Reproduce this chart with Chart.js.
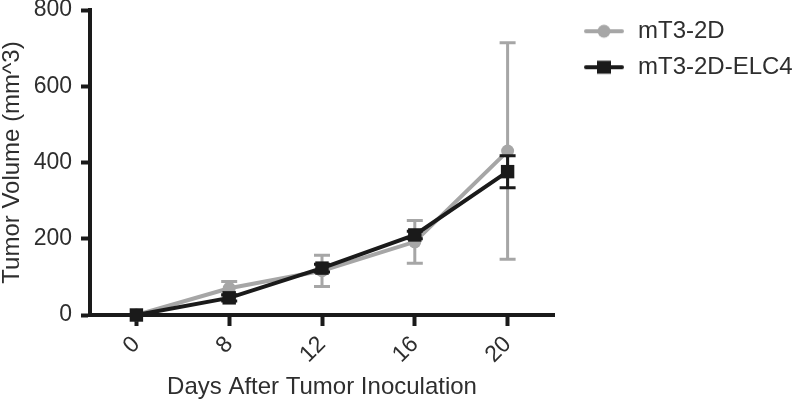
<!DOCTYPE html>
<html>
<head>
<meta charset="utf-8">
<script src="https://cdn.jsdelivr.net/npm/chart.js@4.4.0/dist/chart.umd.min.js"></script>
<style>
  html, body { margin: 0; padding: 0; background: #fff; }
  #wrap { width: 800px; height: 403px; }
</style>
</head>
<body>
<div id="wrap"><canvas id="tumorChart" width="800" height="403"></canvas></div>
<script>
// data (mean +/- error)
const days = ['0', '8', '12', '16', '20'];
const yTicks = [0, 200, 400, 600, 800];
const seriesNames = ['mT3-2D', 'mT3-2D-ELC4'];
const mt3Mean = [0, 70, 116, 192, 430];
const mt3Err = [0, 18, 41, 56, 284];
const elc4Mean = [0, 45, 123, 210, 376];
const elc4Err = [0, 8, 10, 10, 42];

const font = '"Liberation Sans", Arial, Helvetica, sans-serif';
const textColor = '#2e2e2e';
const axisColor = '#1a1a1a';
const grayColor = '#a6a6a6';
const blackColor = '#1a1a1a';

// small line + marker picture for the legend
function legendSymbol(color, shape) {
    const c = document.createElement('canvas');
    c.width = 60;
    c.height = 20;
    const g = c.getContext('2d');
    g.strokeStyle = color;
    g.fillStyle = color;
    g.lineWidth = 4;
    g.lineCap = 'round';
    g.beginPath();
    g.moveTo(20, 10);
    g.lineTo(56, 10);
    g.stroke();
    if (shape === 'circle') {
        g.beginPath();
        g.arc(38, 10, 6.5, 0, Math.PI * 2);
        g.fill();
    } else {
        g.fillRect(31, 3.5, 14, 13);
    }
    return c;
}

// vertical error bars with caps, drawn just before each dataset
const errorBars = {
    id: 'errorBars',
    beforeDatasetDraw(chart, args) {
        const ds = chart.data.datasets[args.index];
        if (!ds.errors) return;
        const y = chart.scales.y;
        const ctx = chart.ctx;
        ctx.save();
        ctx.strokeStyle = ds.borderColor;
        ctx.lineWidth = 3;
        args.meta.data.forEach((pt, i) => {
            const e = ds.errors[i];
            if (!e) return;
            const top = y.getPixelForValue(ds.data[i] + e);
            const bot = y.getPixelForValue(ds.data[i] - e);
            ctx.beginPath();
            ctx.moveTo(pt.x, top);
            ctx.lineTo(pt.x, bot);
            ctx.moveTo(pt.x - 8, top);
            ctx.lineTo(pt.x + 8, top);
            ctx.moveTo(pt.x - 8, bot);
            ctx.lineTo(pt.x + 8, bot);
            ctx.stroke();
        });
        ctx.restore();
    }
};

new Chart(document.getElementById('tumorChart'), {
    type: 'line',
    data: {
        labels: days,
        datasets: [{
            label: seriesNames[0],
            data: mt3Mean,
            errors: mt3Err,
            borderColor: grayColor,
            backgroundColor: grayColor,
            borderWidth: 4,
            pointStyle: 'circle',
            pointRadius: 6.5,
            pointBorderWidth: 0,
            order: 1,
            clip: false,
            legendSymbol: legendSymbol(grayColor, 'circle')
        }, {
            label: seriesNames[1],
            data: elc4Mean,
            errors: elc4Err,
            borderColor: blackColor,
            backgroundColor: blackColor,
            borderWidth: 4,
            pointStyle: 'rect',
            pointRadius: 9.5,
            pointBorderWidth: 0,
            order: 0,
            clip: false,
            legendSymbol: legendSymbol(blackColor, 'rect')
        }]
    },
    options: {
        responsive: false,
        animation: false,
        layout: { padding: 0 },
        plugins: {
            tooltip: { enabled: false },
            legend: {
                position: 'right',
                align: 'start',
                maxWidth: 246,
                title: { display: true, text: '', padding: 0, font: { size: 6 } },
                labels: {
                    usePointStyle: true,
                    pointStyleWidth: 60,
                    padding: 12,
                    color: textColor,
                    font: { size: 24, family: font },
                    generateLabels(chart) {
                        return chart.data.datasets.map((ds, i) => ({
                            text: ds.label,
                            pointStyle: ds.legendSymbol,
                            fontColor: textColor,
                            datasetIndex: i,
                            hidden: false,
                            lineWidth: 0,
                            strokeStyle: 'transparent',
                            fillStyle: 'transparent'
                        }));
                    }
                }
            }
        },
        scales: {
            x: {
                offset: true,
                grid: { display: true, drawOnChartArea: false, offset: false, tickLength: 11, tickWidth: 4, tickColor: axisColor },
                border: { display: true, width: 4, color: axisColor },
                ticks: { minRotation: 45, maxRotation: 45, padding: 5, color: textColor, font: { size: 23, family: font } },
                title: {
                    display: true,
                    text: 'Days After Tumor Inoculation',
                    color: textColor,
                    font: { size: 24, family: font, lineHeight: 1 },
                    padding: { top: 0, bottom: 4 }
                },
                afterFit(s) { s.height = 88; }
            },
            y: {
                min: yTicks[0],
                max: yTicks[yTicks.length - 1],
                afterBuildTicks(s) { s.ticks = yTicks.map(v => ({ value: v })); },
                grid: { display: true, drawOnChartArea: false, tickLength: 9, tickWidth: 4, tickColor: axisColor },
                border: { display: true, width: 4, color: axisColor },
                ticks: { padding: 9, color: textColor, font: { size: 23, family: font } },
                title: {
                    display: true,
                    text: 'Tumor Volume (mm^3)',
                    color: textColor,
                    font: { size: 24, family: font, lineHeight: 1 },
                    padding: 0
                },
                afterFit(s) { s.width = 90; s.paddingTop = 10; }
            }
        }
    },
    plugins: [errorBars]
});
</script>
</body>
</html>
